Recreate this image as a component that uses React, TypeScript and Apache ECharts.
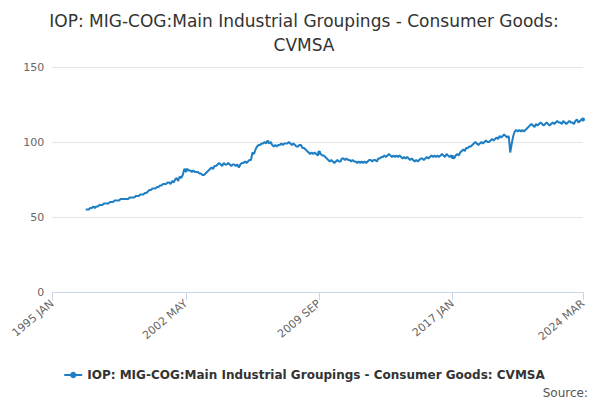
import React, { useEffect, useRef } from "react";
import * as echarts from "echarts";

const MONTHS = ["JAN","FEB","MAR","APR","MAY","JUN","JUL","AUG","SEP","OCT","NOV","DEC"];
const START_YEAR = 1995;
const TOTAL = 351; // 1995 JAN .. 2024 MAR
const DATA_START = 22; // 1996 NOV
const values: number[] = [
  55,55,
  55,56,56,57,56,57,57,58,58,58,59,59,
  59,59,60,60,60,61,61,61,61,62,62,62,
  62,62,62,63,63,63,63,64,64,64,65,65,
  65,66,66,67,68,68,69,69,69,70,70,71,
  71,72,72,72,73,73,72,74,73,75,76,74,
  77,76,78,82,81,82,81,81,80,81,80,80,
  80,79,79,78,78,79,80,81,82,83,82,84,
  84,85,86,85,84,86,85,85,86,85,84,85,
  85,84,85,83,85,86,86,87,86,87,88,88,
  93,92,95,97,98,98,99,99,100,99,101,99,
  100,98,97,98,97,98,98,99,98,99,99,99,
  100,99,98,99,98,97,97,98,98,96,96,95,
  94,93,92,93,92,93,92,91,93,92,91,91,
  90,89,88,87,88,87,86,87,88,87,87,89,
  89,88,89,88,88,87,88,87,87,86,87,86,
  87,86,87,86,87,88,88,87,88,88,87,89,
  89,90,90,91,90,91,92,91,90,91,90,91,
  90,91,90,89,90,89,90,89,88,89,88,87,
  88,87,88,89,89,88,89,90,89,90,91,90,
  91,90,91,90,91,92,91,90,92,91,90,91,
  90,89,91,92,91,93,94,95,94,96,96,97,
  97,98,99,100,99,98,99,100,99,100,101,100,
  100,101,102,101,102,103,102,104,103,104,105,104,
  103,104,93,99,104,107,108,107,108,107,108,107,
  108,109,110,111,112,111,110,112,111,112,113,112,
  111,112,113,112,111,112,113,112,113,114,113,113,
  112,114,113,112,113,114,113,113,112,114,115,113,
  114,115,115,
];
const categories: string[] = Array.from({ length: TOTAL }, (_, i) =>
  `${START_YEAR + Math.floor(i / 12)} ${MONTHS[i % 12]}`);
const seriesData: (number | null)[] = categories.map((_, i) =>
  i >= DATA_START && i - DATA_START < values.length ? values[i - DATA_START] : null);
const showLabel = (i: number) => i % 88 === 0 || i === TOTAL - 1;
const NAME = "IOP: MIG-COG:Main Industrial Groupings - Consumer Goods: CVMSA";

export default function App() {
  const ref = useRef<HTMLDivElement>(null);
  useEffect(() => {
    const chart = echarts.init(ref.current!, null, { renderer: "svg" });
    chart.setOption({
      animation: false,
      textStyle: { fontFamily: "DejaVu Sans" },
      title: {
        text: "IOP: MIG-COG:Main Industrial Groupings - Consumer Goods:\nCVMSA",
        left: "center", top: -4,
        textStyle: { fontSize: 17, fontWeight: "normal", color: "#333", lineHeight: 24 },
      },
      grid: { left: 40, right: 17, top: 59, bottom: 108 },
      xAxis: {
        type: "category", data: categories, boundaryGap: false,
        axisLine: { lineStyle: { color: "#ccd6eb" } },
        axisTick: { interval: (i: number) => showLabel(i), length: 8, lineStyle: { color: "#ccd6eb" } },
        axisLabel: { interval: (i: number) => showLabel(i), rotate: 40, color: "#666", fontSize: 11, margin: 10 },
      },
      yAxis: {
        type: "value", min: 0, max: 150, interval: 50,
        axisLabel: { color: "#666", fontSize: 11 },
        splitLine: { lineStyle: { color: "#e6e6e6" } },
      },
      legend: {
        bottom: 14, left: "center", itemWidth: 18, itemHeight: 8,
        textStyle: { fontSize: 12, fontWeight: "bold", color: "#333" },
        data: [{ name: NAME }],
      },
      graphic: [{ type: "text", right: 12, bottom: 1, style: { text: "Source:", fontSize: 12, fill: "#555", fontFamily: "DejaVu Sans" } }],
      series: [{
        name: NAME, type: "line", data: seriesData, color: "#1f7fc4",
        symbol: "circle", symbolSize: 4, showSymbol: true,
        lineStyle: { width: 2 },
      }],
    });
    return () => chart.dispose();
  }, []);
  return <div ref={ref} style={{ width: 592, height: 392 }} />;
}
